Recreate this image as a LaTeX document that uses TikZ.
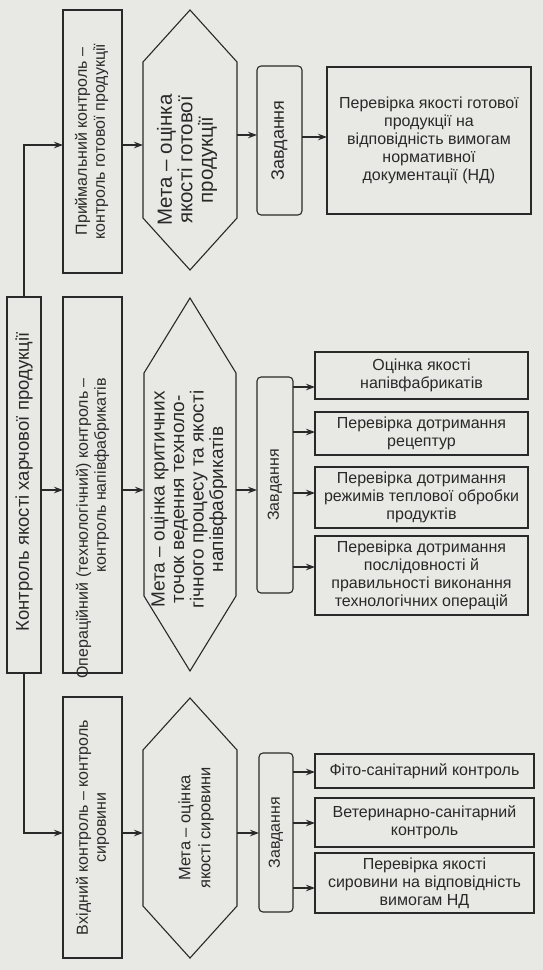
\documentclass[tikz,border=0pt]{standalone}
\usepackage{fontspec}
\setmainfont{Liberation Sans}
\usetikzlibrary{arrows.meta}
\definecolor{ink}{rgb}{0.16,0.16,0.16}
\definecolor{paper}{rgb}{0.91,0.91,0.90}
\newcommand\fsz{\fontsize{16}{18}\selectfont}
\newcommand\fbig{\fontsize{18.5}{20}\selectfont}
\newcommand\fhexa{\fontsize{20.5}{20.5}\selectfont}
\newcommand\fhexb{\fontsize{19}{19.5}\selectfont}
\newcommand\fhexc{\fontsize{16.5}{20}\selectfont}
\newcommand\fopr{\fontsize{16}{18}\selectfont}
\newcommand\fzava{\fontsize{18}{19}\selectfont}
\tikzset{
  shp/.style={draw=ink, line width=1.1pt, inner sep=0pt, outer sep=0pt},
  box/.style={shp, rectangle},
  tbox/.style={shp, rounded corners=4pt},
  ghost/.style={inner sep=0pt, outer sep=0pt, draw=none},
  vtxt/.style={rotate=90, align=center, font=\fsz, text=ink, inner sep=0pt},
  htxt/.style={align=center, font=\fsz, text=ink},
  ln/.style={draw=ink, line width=1.1pt},
  arr/.style={draw=ink, line width=1.1pt, -{Stealth[length=9pt,width=6.5pt,inset=3pt]}},
}
\begin{document}
\begin{tikzpicture}[x=1pt,y=-1pt]
\fill[paper] (0,0) rectangle (543,970);
\useasboundingbox (0,0) rectangle (543,970);

% column 1
\node[box, minimum width=34, minimum height=376] (m) at (24,485) {};
\node[vtxt, font=\fbig] (mt) at ([yshift=3pt]m.center) {Контроль якості харчової продукції};

% column 2
\node[box, minimum width=59, minimum height=263] (a1) at (92.5,141.5) {};
\node[vtxt] (a1t) at ([xshift=-1pt]a1.center) {Приймальний контроль –\\контроль готової продукції};
\node[box, minimum width=59, minimum height=376] (a2) at (92.5,485) {};
\node[vtxt, font=\fopr, align=right, anchor=east] (a2t) at ([yshift=107pt]a2.center) {Операційний (технологічний) контроль –\\контроль напівфабрикатів};
\node[box, minimum width=59, minimum height=261] (a3) at (92.5,827.5) {};
\node[vtxt] (a3t) at (a3) {Вхідний контроль – контроль\\сировини};

% column 3 (hexagons)
\node[ghost, minimum width=94, minimum height=260] (h1) at (190,140) {};
\draw[ln] (h1.north) -- ([yshift=-52pt]h1.north east) -- ([yshift=52pt]h1.south east)
  -- (h1.south) -- ([yshift=52pt]h1.south west) -- ([yshift=-52pt]h1.north west) -- cycle;
\node[vtxt, font=\fhexa] (h1t) at ([xshift=-3pt,yshift=-20pt]h1.center) {Мета – оцінка\\якості готової\\продукції};

\node[ghost, minimum width=92, minimum height=373] (h2) at (190,484.5) {};
\draw[ln] (h2.north) -- ([yshift=-75pt]h2.north east) -- ([yshift=75pt]h2.south east)
  -- (h2.south) -- ([yshift=75pt]h2.south west) -- ([yshift=-75pt]h2.north west) -- cycle;
\node[vtxt, font=\fhexb] (h2t) at ([xshift=-1pt,yshift=-15pt]h2.center) {Мета – оцінка критичних\\точок ведення техноло-\\гічного процесу та якості\\напівфабрикатів};

\node[ghost, minimum width=94, minimum height=260] (h3) at (190,828) {};
\draw[ln] (h3.north) -- ([yshift=-52pt]h3.north east) -- ([yshift=52pt]h3.south east)
  -- (h3.south) -- ([yshift=52pt]h3.south west) -- ([yshift=-52pt]h3.north west) -- cycle;
\node[vtxt, font=\fhexc] (h3t) at ([xshift=6pt]h3.center) {Мета – оцінка\\якості сировини};

% column 4
\node[tbox, minimum width=45, minimum height=149] (z1) at (279.5,140.5) {};
\node[vtxt, font=\fzava] (z1t) at (z1) {Завдання};
\node[tbox, minimum width=36, minimum height=216] (z2) at (275,485) {};
\node[vtxt] (z2t) at (z2) {Завдання};
\node[tbox, minimum width=34, minimum height=159] (z3) at (276,832.5) {};
\node[vtxt] (z3t) at (z3) {Завдання};

% column 5
\node[box, htxt, minimum width=204, minimum height=147] (b1) at (429,140.5)
  {Перевірка якості готової\\продукції на\\відповідність вимогам\\нормативної\\документації (НД)};
\node[box, htxt, minimum width=213, minimum height=47] (c1) at (421.5,375.5)
  {Оцінка якості\\напівфабрикатів};
\node[box, htxt, minimum width=213, minimum height=43] (c2) at (421.5,433.5)
  {Перевірка дотримання\\рецептур};
\node[box, htxt, minimum width=213, minimum height=61] (c3) at (421.5,497.5)
  {Перевірка дотримання\\режимів теплової обробки\\продуктів};
\node[box, htxt, minimum width=213, minimum height=79] (c4) at (421.5,575.5)
  {Перевірка дотримання\\послідовності й\\правильності виконання\\технологічних операцій};
\node[box, htxt, minimum width=219, minimum height=34] (d1) at (424.5,771)
  {Фіто-санітарний контроль};
\node[box, htxt, minimum width=219, minimum height=49] (d2) at (424.5,822.5)
  {Ветеринарно-санітарний\\контроль};
\node[box, htxt, minimum width=219, minimum height=60] (d3) at (424.5,883)
  {Перевірка якості\\сировини на відповідність\\вимогам НД};

% arrow levels
\coordinate (r1) at (0,145);
\coordinate (r1b) at (0,135);
\coordinate (r1c) at (0,137);
\coordinate (r2) at (0,490);
\coordinate (r3) at (0,833);
\coordinate (s1) at (0,387);
\coordinate (s2) at (0,432);
\coordinate (s3) at (0,493);
\coordinate (s4) at (0,567);
\coordinate (t1) at (0,772);
\coordinate (t2) at (0,823);
\coordinate (t3) at (0,888);

% connectors
\draw[arr] (m.north) |- (a1.west |- r1);
\draw[arr] (m.east |- r2) -- (a2.west |- r2);
\draw[arr] (m.south) |- (a3.west |- r3);

\draw[arr] (a1.east |- r1) -- (h1.west |- r1);
\draw[arr] (a2.east |- r2) -- (h2.west |- r2);
\draw[arr] (a3.east |- r3) -- (h3.west |- r3);

\draw[arr] (h1.east |- r1b) -- (z1.west |- r1b);
\draw[arr] (h2.east |- r2) -- (z2.west |- r2);
\draw[arr] (h3.east |- r3) -- (z3.west |- r3);

\draw[arr] (z1.east |- r1c) -- (b1.west |- r1c);
\draw[arr] (z2.east |- s1) -- (c1.west |- s1);
\draw[arr] (z2.east |- s2) -- (c2.west |- s2);
\draw[arr] (z2.east |- s3) -- (c3.west |- s3);
\draw[arr] (z2.east |- s4) -- (c4.west |- s4);
\draw[arr] (z3.east |- t1) -- (d1.west |- t1);
\draw[arr] (z3.east |- t2) -- (d2.west |- t2);
\draw[arr] (z3.east |- t3) -- (d3.west |- t3);
\end{tikzpicture}
\end{document}
